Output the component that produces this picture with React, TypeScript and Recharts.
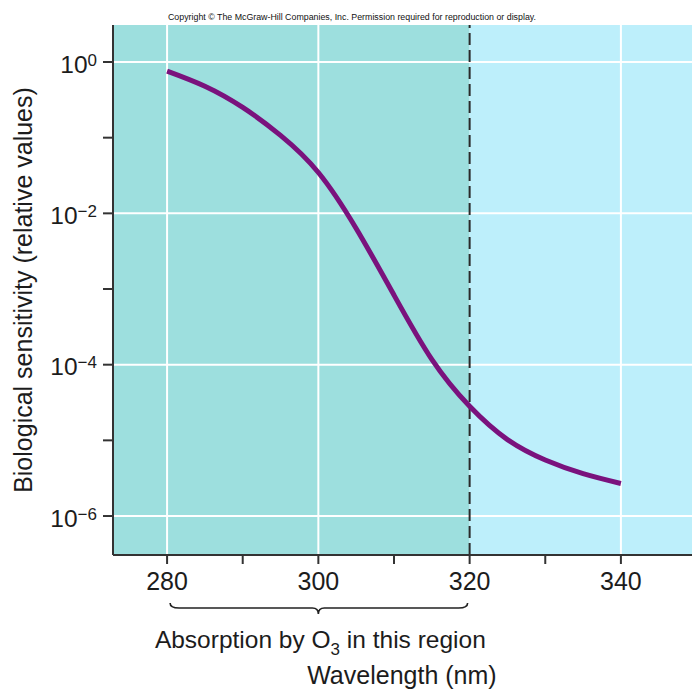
import React from 'react';
import { LineChart, Line, XAxis, YAxis, ReferenceArea, ReferenceLine, Label } from 'recharts';

// wavelength (nm) and log10 of relative biological sensitivity
const wavelengths = [280, 285, 290, 295, 300, 305, 310, 315, 320, 325, 330, 335, 340];
const log10Sensitivity = [-0.12, -0.32, -0.6, -0.97, -1.46, -2.2, -3.08, -3.93, -4.55, -4.99, -5.26, -5.44, -5.57];

const xMajorTicks = [280, 300, 320, 340];
const xMinorTicks = [290, 310, 330];
const yMajorTicks = [0, -2, -4, -6];
const yMinorTicks = [-1, -3, -5];
const ozoneBand = [280, 320];
const xDomain = [272.85, 349.4];
const yDomain = [-6.515, 0.489];

const data = wavelengths.map((w, i) => ({ wavelength: w, logS: log10Sensitivity[i] }));

const FONT = 'Arial, "Liberation Sans", Helvetica, sans-serif';
const TEXT = '#1c1c1c';
const AXIS = '#333';

const XTick = (props: any) => {
  const { x, y, payload } = props;
  if (!xMajorTicks.includes(payload.value)) return <g />;
  return (
    <text x={x} y={y + 26} textAnchor="middle" fontSize={25} fontFamily={FONT} fill={TEXT}>
      {payload.value}
    </text>
  );
};

const YTick = (props: any) => {
  const { x, y, payload } = props;
  if (!yMajorTicks.includes(payload.value)) return <g />;
  const exp = payload.value === 0 ? '0' : `\u2212${Math.abs(payload.value)}`;
  return (
    <text x={x} y={y + 10.5} textAnchor="end" fontSize={24.5} fontFamily={FONT} fill={TEXT}>
      10
      <tspan dy={-7} fontSize={17}>{exp}</tspan>
    </text>
  );
};

const YTitle = (props: any) => {
  const vb = props.viewBox || { x: 0, y: 25, width: 113, height: 530 };
  const cx = vb.x + 32;
  const cy = vb.y + vb.height / 2;
  return (
    <text
      x={cx}
      y={cy}
      transform={`rotate(-90, ${cx}, ${cy})`}
      textAnchor="middle"
      fontSize={25}
      fontFamily={FONT}
      fill={TEXT}
    >
      Biological sensitivity (relative values)
    </text>
  );
};

// brace under the ozone band, its caption, the x title and the copyright line
const Annotations = (props: any) => {
  const { x, y, width, height } = props;
  const bottom = y + height;
  const x1 = x + 3;
  const x2 = x + width - 2;
  const xm = x + width / 2;
  const y0 = bottom + 48;
  const y1 = bottom + 53;
  const d = `M ${x1} ${y0} Q ${x1} ${y1} ${x1 + 9} ${y1} L ${xm - 6} ${y1} Q ${xm} ${y1} ${xm} ${y1 + 6} Q ${xm} ${y1} ${xm + 6} ${y1} L ${x2 - 9} ${y1} Q ${x2} ${y1} ${x2} ${y0}`;
  return (
    <g>
      <path d={d} fill="none" stroke="#222" strokeWidth={1.6} />
      <text x={xm + 2} y={bottom + 93} textAnchor="middle" fontSize={24.5} fontFamily={FONT} fill={TEXT}>
        Absorption by O
        <tspan dy={7} fontSize={17}>3</tspan>
        <tspan dy={-7}> in this region</tspan>
      </text>
      <text x={x + width + 27} y={bottom + 129} textAnchor="end" fontSize={25} fontFamily={FONT} fill={TEXT}>
        Wavelength (nm)
      </text>
      <text x={352} y={y - 5} textAnchor="middle" fontSize={8.5} fontFamily={FONT} fill="#111" textLength={368} lengthAdjust="spacingAndGlyphs">
        Copyright © The McGraw-Hill Companies, Inc. Permission required for reproduction or display.
      </text>
    </g>
  );
};

export default function App() {
  return (
    <div style={{ position: 'absolute', left: 0, top: 0, width: 692, height: 692, background: '#fff' }}>
      <LineChart width={692} height={692} data={data} margin={{ top: 25, right: 0, bottom: 97, left: 0 }}>
        <XAxis
          type="number"
          dataKey="wavelength"
          domain={xDomain}
          allowDataOverflow
          ticks={[...xMajorTicks, ...xMinorTicks].sort((a, b) => a - b)}
          tick={<XTick />}
          tickSize={9}
          tickMargin={0}
          height={40}
          axisLine={{ stroke: AXIS, strokeWidth: 2 }}
          tickLine={{ stroke: AXIS, strokeWidth: 2 }}
        />
        <YAxis
          type="number"
          domain={yDomain}
          allowDataOverflow
          ticks={[...yMajorTicks, ...yMinorTicks].sort((a, b) => a - b)}
          tick={<YTick />}
          tickSize={10}
          tickMargin={6}
          width={113}
          axisLine={{ stroke: AXIS, strokeWidth: 2 }}
          tickLine={{ stroke: AXIS, strokeWidth: 2 }}
        >
          <Label content={<YTitle />} />
        </YAxis>

        <ReferenceArea x1={xDomain[0]} x2={ozoneBand[1]} fill="#9ddfde" fillOpacity={1} stroke="none" />
        <ReferenceArea x1={ozoneBand[1]} x2={xDomain[1]} fill="#bdeffb" fillOpacity={1} stroke="none" />

        {xMajorTicks.filter((t) => t !== ozoneBand[1]).map((t) => (
          <ReferenceLine key={`vx${t}`} x={t} stroke="#fff" strokeWidth={2} />
        ))}
        {yMajorTicks.map((t) => (
          <ReferenceLine key={`hy${t}`} y={t} stroke="#fff" strokeWidth={2} />
        ))}
        <ReferenceLine x={ozoneBand[1]} stroke="#2a2a2a" strokeWidth={2} strokeDasharray="12 5" />

        <Line
          type="natural"
          dataKey="logS"
          stroke="#7a127d"
          strokeWidth={5}
          dot={false}
          isAnimationActive={false}
        />

        <ReferenceArea
          x1={ozoneBand[0]}
          x2={ozoneBand[1]}
          ifOverflow="visible"
          shape={<Annotations />}
        />
      </LineChart>
    </div>
  );
}
